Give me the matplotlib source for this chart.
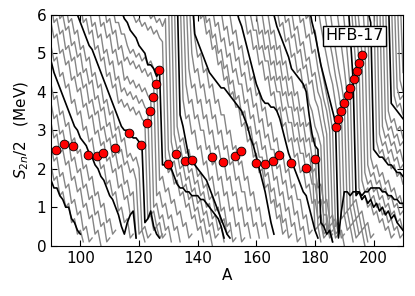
import matplotlib
matplotlib.use('Agg')
import matplotlib.pyplot as plt
import numpy as np

# S2n/2 along each isotopic chain (0.1 MeV units), one value per mass number A,
# chains ordered from lightest to heaviest; every sixth chain is drawn in black.
c00 = [20, 18, 17, 15, 15, 13, 12, 10, 10, 7, 6, 4, 3]
c01 = [25, 20, 21, 17, 18, 13, 14, 10, 11, 6, 7, 3, 4, 1]
c02 = [30, 25, 26, 22, 23, 18, 19, 15, 16, 11, 12, 8, 9, 4, 5, 1, 2]
c03 = [36, 31, 32, 28, 29, 24, 25, 21, 22, 17, 18, 14, 15, 10, 11, 7, 8, 3, 4, 0]
c04 = [41, 36, 37, 33, 34, 29, 30, 26, 27, 22, 23, 19, 20, 15, 16, 12, 13, 8, 9, 5, 6, 1, 2]
c05 = [46, 41, 42, 38, 39, 34, 35, 31, 32, 27, 28, 24, 25, 20, 21, 17, 18, 13, 14, 10, 11, 6, 7, 3, 4]
c06 = [52, 50, 48, 45, 43, 41, 39, 37, 35, 33, 31, 30, 28, 27, 26, 24, 23, 21, 20, 18, 17, 15, 13, 12,
       10, 8, 5, 3, 6, 8, 9, 2]
c07 = [56, 51, 52, 48, 49, 44, 45, 41, 42, 37, 38, 34, 35, 30, 31, 27, 28, 23, 24, 20, 21, 16, 17, 13,
       14, 9, 10, 6, 7, 2, 3]
c08 = [62, 57, 58, 54, 55, 50, 51, 47, 48, 43, 44, 40, 41, 36, 37, 33, 34, 29, 30, 26, 27, 22, 23, 19,
       20, 15, 16, 12, 13, 8]
c09 = [63, 58, 59, 55, 56, 51, 52, 48, 49, 44, 45, 41, 42, 37, 38, 34, 35, 30, 31, 27, 28, 23, 24, 20,
       21, 16, 17, 13, 14, 2]
c10 = [64, 59, 60, 56, 57, 52, 53, 49, 50, 45, 46, 42, 43, 38, 39, 35, 36, 31, 32, 28, 29, 24, 25, 21,
       22, 19, 20, 17, 3, 4, 1]
c11 = [63, 58, 59, 55, 56, 51, 52, 48, 49, 44, 45, 41, 42, 37, 38, 34, 35, 30, 31, 27, 28, 23, 24, 22,
       23, 20, 4, 5, 2, 3]
c12 = [62, 60, 58, 56, 54, 52, 51, 49, 47, 45, 43, 41, 39, 37, 35, 33, 31, 30, 30, 29, 28, 28, 27, 26,
       6, 7, 9, 5, 3, 2]
c13 = [63, 58, 59, 55, 56, 51, 52, 48, 49, 44, 45, 41, 42, 37, 38, 36, 37, 35, 36, 34, 35, 33, 32,
       7, 8, 4, 5, 2, 3]
c14 = [62, 57, 58, 54, 55, 50, 51, 47, 48, 43, 44, 40, 41, 39, 40, 38, 39, 37, 38, 36, 35,
       8, 9, 5, 6, 2, 3]
c15 = [62, 57, 58, 54, 55, 50, 51, 47, 48, 43, 44, 42, 43, 41, 42, 40, 41, 39, 38,
       10, 11, 7, 8, 4, 5, 1]
c16 = [63, 58, 59, 55, 56, 51, 52, 48, 49, 47, 48, 46, 47, 45, 46, 44, 45, 42,
       13, 14, 10, 11, 7, 8, 4, 5, 1]
c17 = [62, 58, 58, 55, 55, 52, 50, 51, 49, 50, 48, 49, 47, 48, 46, 45,
       17, 18, 14, 15, 11, 12, 8, 9, 5, 6, 2, 3]
c18 = [61, 59, 58, 56, 55, 54, 52, 51, 50, 47, 47, 46, 44, 45,
       21, 21, 20, 20, 18, 16, 15, 15, 14, 14, 13, 13, 13, 12, 12, 11, 10, 9, 8, 7, 5, 2]
c19 = [61, 60, 58, 59, 57, 58, 56, 57, 55, 56, 54, 53,
       23, 19, 20, 16, 17, 13, 14, 10, 11, 7, 8, 4, 5, 1]
c20 = [61, 62, 60, 61, 59, 60, 58, 59, 57, 59,
       25, 21, 22, 18, 19, 15, 16, 12, 13, 9, 10, 6, 7, 3, 4, 0]
c21 = [66, 27, 23, 24, 20, 21, 17, 18, 14, 15, 11, 12, 8, 9, 5, 6, 2, 3]
c22 = [66, 29, 25, 26, 22, 23, 19, 20, 16, 17, 13, 14, 10, 11, 7, 8, 4, 5, 1]
c23 = [66, 31, 27, 28, 24, 25, 21, 22, 18, 19, 15, 16, 12, 13, 9, 10, 6, 7, 3, 4]
c24 = [66, 34, 31, 27, 23, 22, 21, 20, 19, 18, 17, 15, 13, 11, 9, 7, 5, 3, 2]
c25 = [66, 38, 33, 34, 29, 30, 25, 26, 21, 22, 17, 18, 13, 14, 9, 10, 5, 6, 1, 2]
c26 = [66, 42, 37, 38, 33, 34, 30, 30, 25, 26, 21, 22, 17, 18, 13, 14, 9, 10, 5, 6, 1, 2]
c27 = [66, 46, 41, 42, 37, 38, 33, 34, 29, 30, 25, 26, 22, 22, 17, 18, 13, 14, 9, 10, 5, 6, 2]
c28 = [66, 50, 45, 46, 41, 42, 37, 38, 33, 34, 29, 30, 25, 26, 21, 22, 17, 18, 14, 14, 9, 10, 5, 6, 2]
c29 = [66, 54, 49, 50, 45, 46, 41, 42, 37, 38, 34, 34, 29, 30, 25, 26, 21, 22, 17, 18, 13, 14, 9, 10,
       5, 6, 2]
c30 = [66, 55, 53, 51, 49, 47, 45, 44, 43, 42, 41, 41, 40, 39, 38, 37, 36, 35, 33, 31, 28, 26, 23, 20,
       17, 14, 10, 6, 3]
c31 = [64, 59, 60, 55, 56, 51, 52, 47, 48, 43, 44, 39, 40, 36, 36, 31, 32, 27, 28, 23, 24, 19, 20, 15,
       16, 11, 12, 7, 8, 3, 4]
c32 = [63, 58, 59, 54, 55, 50, 51, 46, 47, 42, 43, 38, 39, 34, 35, 30, 31, 26, 27, 23, 23, 18, 19, 14,
       15, 10, 11, 6, 7, 2, 3]
c33 = [62, 57, 58, 53, 54, 49, 50, 45, 46, 42, 42, 37, 38, 33, 34, 29, 30, 25, 26, 21, 22, 17, 18, 13,
       14, 9, 10, 5, 6, 1, 2]
c34 = [61, 56, 57, 52, 53, 48, 49, 44, 45, 40, 41, 36, 37, 32, 33, 28, 29, 25, 25, 20, 21, 16, 17, 12,
       13, 8, 9, 4, 5, 0]
c35 = [60, 55, 56, 51, 52, 47, 48, 43, 44, 39, 40, 35, 36, 31, 32, 27, 28, 23, 24, 19, 20, 15, 16, 12,
       12, 7, 8, 3, 4]
c36 = [62, 59, 57, 54, 51, 48, 45, 42, 40, 38, 37, 37, 36, 36, 35, 33, 30, 27, 24, 22, 20, 18, 16, 14,
       13, 10, 7, 4, 2]
c37 = [60, 55, 56, 51, 52, 47, 48, 43, 44, 39, 40, 35, 36, 31, 32, 27, 28, 23, 24, 19, 20, 15, 16, 11,
       12, 7, 8, 3, 4]
c38 = [60, 56, 56, 51, 52, 48, 48, 43, 44, 40, 40, 35, 36, 32, 32, 27, 28, 24, 24, 19, 20, 16, 16, 11,
       12, 8, 8, 3, 4]
c39 = [60, 55, 56, 51, 52, 47, 48, 43, 44, 39, 40, 36, 36, 31, 32, 27, 28, 23, 24, 19, 20, 15, 16, 11,
       12, 7, 8, 3, 4]
c40 = [60, 55, 56, 51, 52, 47, 48, 43, 44, 39, 40, 35, 36, 31, 32, 27, 28, 23, 4, 5, 1]
c41 = [60, 55, 56, 51, 52, 47, 48, 43, 44, 39, 40, 35, 36, 31, 32, 27, 28, 5, 6, 2, 3]
c42 = [62, 60, 57, 55, 53, 51, 49, 46, 45, 44, 43, 42, 40, 34, 29, 26, 25, 6, 5, 3, 4, 1]
c43 = [62, 57, 58, 53, 54, 49, 50, 45, 46, 41, 42, 37, 35, 31, 29, 26, 5, 6, 2, 3]
c44 = [63, 58, 59, 54, 55, 50, 51, 46, 47, 42, 43, 38, 36, 32, 28, 4, 5, 1]
c45 = [61, 56, 57, 52, 53, 48, 49, 44, 45, 40, 38, 33, 29, 5, 6, 2, 3]
c46 = [63, 58, 59, 54, 55, 50, 51, 46, 42, 38, 35, 30, 6, 7, 3, 4, 0]
c47 = [64, 59, 60, 55, 56, 51, 47, 43, 39, 35, 30, 5, 6, 2, 3]
c48 = [62, 58, 55, 51, 47, 44, 41, 38, 35, 32,
       2, 9, 14, 14, 13, 14, 14, 14, 13, 14, 14, 15, 15, 15, 15, 14, 14, 13, 13, 12, 12, 11, 11]
c49 = [62, 57, 53, 49, 45, 42, 37, 33, 7, 8, 4, 5, 1]
c50 = [62, 57, 53, 49, 44, 40, 35, 8, 9, 5, 6, 2, 3]
c51 = [62, 56, 51, 46, 42, 37, 9, 10, 6, 7, 3, 4, 0]
c52 = [64, 58, 52, 46, 39, 10, 11, 7, 8, 4, 5, 1]
c53 = [65, 58, 50, 41, 11, 12, 8, 9, 5, 6, 2, 3]
c54 = [66, 55, 43, 13, 14, 12, 13, 11, 12, 10, 11, 9, 10, 8, 9, 7, 8, 6, 5, 4]
c55 = [66, 56, 46, 15, 12, 13, 10, 11, 8, 9, 6, 7, 4, 5, 2, 3]
c56 = [66, 57, 48, 17, 14, 15, 12, 13, 10, 11, 8, 9, 6, 7, 4, 5, 2, 3]
c57 = [66, 58, 50, 19, 16, 17, 14, 15, 12, 13, 10, 11, 8, 9, 6, 7, 4]
c58 = [66, 54, 21, 18, 19, 16, 17, 14, 15, 12, 13, 10, 11, 8, 9]
c59 = [66, 60, 23, 20, 21, 18, 19, 16, 17, 14, 15, 12, 13, 10]
c60 = [64, 61, 58, 25, 24, 23, 23, 22, 21, 21, 20, 19, 19, 18]
c61 = [66, 27, 24, 25, 22, 23, 20, 21, 18, 19, 16]
c62 = [66, 29, 26, 27, 24, 25, 22, 23, 20, 21]
c63 = [66, 31, 28, 29, 26, 27, 24, 25, 22]
c64 = [66, 33, 30, 31, 28, 29, 26, 27]
c65 = [66, 35, 32, 33, 30, 31, 28]
c66 = [66, 37, 36, 35, 34, 33]
c67 = [66, 39, 36, 37, 34]
c68 = [66, 41, 38, 39]
c69 = [66, 43, 40]
c70 = [66, 45]

chain_values = [c00, c01, c02, c03, c04, c05, c06, c07, c08, c09, c10, c11, c12, c13, c14,
                c15, c16, c17, c18, c19, c20, c21, c22, c23, c24, c25, c26, c27, c28, c29,
                c30, c31, c32, c33, c34, c35, c36, c37, c38, c39, c40, c41, c42, c43, c44,
                c45, c46, c47, c48, c49, c50, c51, c52, c53, c54, c55, c56, c57, c58, c59,
                c60, c61, c62, c63, c64, c65, c66, c67, c68, c69, c70]
# mass number A of the first value of each chain
chain_first_a = [88, 88, 88, 88, 88, 88, 88, 88, 88, 90, 92, 95, 98, 100, 103, 106, 108, 111,
                 114, 117, 120, 130, 131, 132, 133, 134, 135, 136, 137, 138, 138, 140, 142, 145,
                 148, 151, 153, 156, 158, 160, 162, 164, 165, 167, 169, 172, 174, 176, 178, 181,
                 183, 185, 187, 189, 191, 192, 193, 194, 196, 197, 197, 200, 201, 202, 203, 204,
                 205, 206, 207, 208, 209]

# r-process path points
dot_a = [91.7, 94.5, 97.5, 102.7, 105.6, 107.6, 111.7, 116.5, 120.8, 122.7, 123.6, 124.6,
         125.7, 126.7, 129.9, 132.7, 135.8, 137.9, 144.8, 148.8, 152.8, 154.8, 159.9, 162.8,
         165.8, 167.8, 171.9, 177.0, 180.1, 187.0, 188.0, 188.9, 190.0, 191.1, 192.1, 193.2,
         194.2, 195.1, 196.0]
dot_s = [2.49, 2.63, 2.59, 2.35, 2.33, 2.42, 2.55, 2.94, 2.62, 3.18, 3.50, 3.87,
         4.20, 4.56, 2.11, 2.37, 2.21, 2.23, 2.30, 2.18, 2.33, 2.46, 2.14, 2.13,
         2.19, 2.35, 2.16, 2.03, 2.24, 3.09, 3.29, 3.51, 3.70, 3.91, 4.11, 4.33,
         4.55, 4.75, 4.95]

fig = plt.figure(figsize=(4.15, 2.96), dpi=100)
ax = fig.add_axes([0.123, 0.170, 0.848, 0.780])

for k, (a0, vals) in enumerate(zip(chain_first_a, chain_values)):
    a = a0 + np.arange(len(vals))
    s = np.array(vals) / 10.0
    if k % 6 == 0:
        ax.plot(a, s, color='black', lw=1.2, zorder=3)
    else:
        ax.plot(a, s, color='#858585', lw=1.0, zorder=2)

ax.plot(dot_a, dot_s, 'o', color='red', mec='black', mew=0.6, ms=6.3, zorder=5)

ax.text(193.5, 5.45, 'HFB-17', ha='center', va='center', fontsize=11.5, zorder=6,
        bbox=dict(facecolor='white', edgecolor='black', boxstyle='square,pad=0.15'))

ax.set_xlim(90, 210)
ax.set_ylim(0, 6)
ax.set_xticks([100, 120, 140, 160, 180, 200])
ax.set_yticks([0, 1, 2, 3, 4, 5, 6])
ax.tick_params(direction='in', top=True, right=True, length=4, labelsize=11)
ax.set_xlabel('A', fontsize=11, labelpad=2)
ax.set_ylabel(r'$S_{2n}/2$   (MeV)', fontsize=11, labelpad=4)

fig.savefig('out.png', dpi=100)
